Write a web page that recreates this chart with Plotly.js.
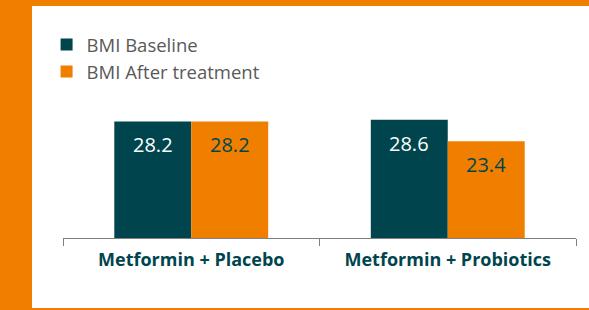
<!DOCTYPE html>
<html>
<head>
<meta charset="utf-8">
<script src="https://cdn.plot.ly/plotly-3.0.1.min.js"></script>
<style>
  html, body { margin: 0; padding: 0; background: #ffffff; }
  #frame { width: 557px; height: 302px; border-left: 32px solid #F07F00; border-top: 6px solid #F07F00; border-bottom: 2px solid #F07F00; background: #ffffff; }
  #chart { width: 557px; height: 302px; }
</style>
</head>
<body>
<div id="frame"><div id="chart"></div></div>
<script>
const categories = ["Metformin + Placebo", "Metformin + Probiotics"];
const baselineValues = [28.2, 28.6];
const afterValues = [28.2, 23.4];
const seriesNames = ["BMI Baseline", "BMI After treatment"];

const TEAL = "#00454E";
const ORANGE = "#F07F00";
const FONT = "'Open Sans', Lato, sans-serif";

const traces = [
  { type: "bar", name: seriesNames[0], x: categories, y: baselineValues, marker: { color: TEAL }, hoverinfo: "skip" },
  { type: "bar", name: seriesNames[1], x: categories, y: afterValues, marker: { color: ORANGE }, hoverinfo: "skip" }
];

const bargap = 0.4;
const barHalf = (1 - bargap) / 4;
const annotations = [];
categories.forEach((c, i) => {
  annotations.push({ x: i - barHalf, y: baselineValues[i], xref: "x", yref: "y", text: baselineValues[i].toFixed(1), showarrow: false, yanchor: "top", yshift: -8, font: { family: FONT, size: 20, color: "#ffffff" } });
  annotations.push({ x: i + barHalf, y: afterValues[i], xref: "x", yref: "y", text: afterValues[i].toFixed(1), showarrow: false, yanchor: "top", yshift: -8, font: { family: FONT, size: 20, color: TEAL } });
});

const layout = {
  width: 557, height: 302,
  margin: { l: 31, r: 13, t: 108, b: 70 },
  paper_bgcolor: "#ffffff", plot_bgcolor: "#ffffff",
  barmode: "group", bargap: bargap, bargroupgap: 0,
  font: { family: FONT },
  showlegend: true,
  legend: { x: -0.032, xanchor: "left", y: 1.71, yanchor: "top", font: { family: FONT, size: 18.5, color: "#595959" }, bgcolor: "rgba(0,0,0,0)", traceorder: "normal" },
  xaxis: { type: "category", showline: true, linecolor: "#808080", linewidth: 1, ticks: "outside", ticklen: 7, tickcolor: "#808080", tickson: "boundaries", ticklabelstandoff: 5, showgrid: false, tickfont: { family: FONT, size: 18, color: TEAL, weight: "bold" }, fixedrange: true },
  yaxis: { range: [0, 30], visible: false, fixedrange: true },
  annotations: annotations
};

Plotly.newPlot("chart", traces, layout, { displayModeBar: false, staticPlot: true });
</script>
</body>
</html>
